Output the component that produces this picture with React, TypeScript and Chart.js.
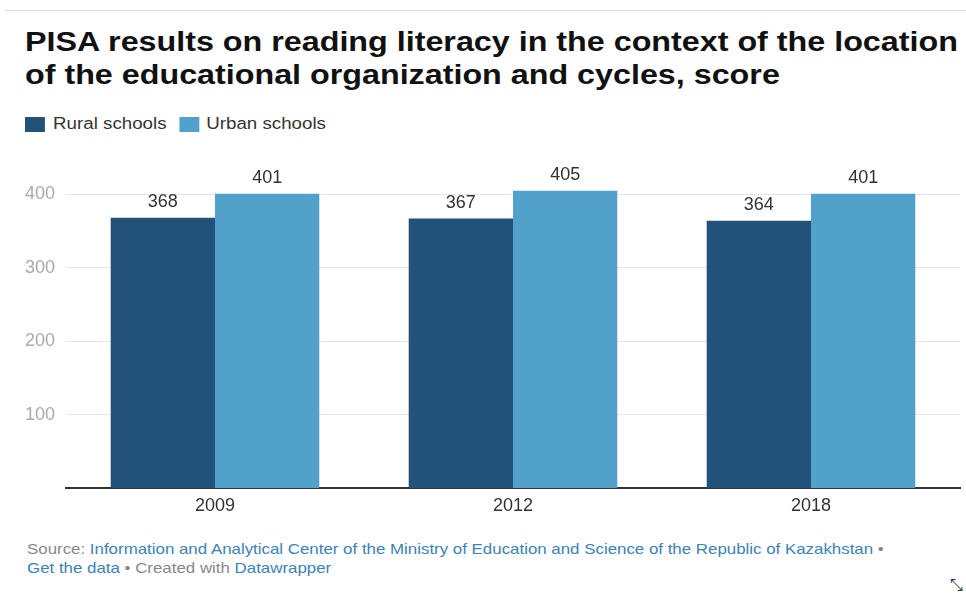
import React, { useEffect, useRef } from "react";
import { Chart, registerables } from "chart.js";

Chart.register(...registerables);

const categories = ["2009", "2012", "2018"];
const ruralValues = [368, 367, 364];
const urbanValues = [401, 405, 401];
const seriesNames = ["Rural schools", "Urban schools"];
const yTickValues = [100, 200, 300, 400];

const RURAL = "#22527a";
const URBAN = "#51a1ca";
const FONT = "'Liberation Sans', Arial, sans-serif";

const valueLabels = {
  id: "valueLabels",
  afterDatasetsDraw(chart: any) {
    const ctx = chart.ctx;
    ctx.save();
    ctx.font = `18px ${FONT}`;
    ctx.fillStyle = "#333";
    ctx.textAlign = "center";
    ctx.textBaseline = "alphabetic";
    chart.data.datasets.forEach((ds: any, i: number) => {
      const meta = chart.getDatasetMeta(i);
      meta.data.forEach((bar: any, j: number) => {
        ctx.fillText(String(ds.data[j]), bar.x, bar.y - 11);
      });
    });
    ctx.restore();
  },
};

export default function App() {
  const ref = useRef<HTMLCanvasElement>(null);
  useEffect(() => {
    document.body.style.margin = "0";
    const chart = new Chart(ref.current!, {
      type: "bar",
      data: {
        labels: categories,
        datasets: [
          { label: seriesNames[0], data: ruralValues, backgroundColor: RURAL, categoryPercentage: 0.7, barPercentage: 1 },
          { label: seriesNames[1], data: urbanValues, backgroundColor: URBAN, categoryPercentage: 0.7, barPercentage: 1 },
        ],
      },
      options: {
        responsive: false,
        animation: false,
        layout: { padding: { top: 25, right: 6, bottom: 0, left: 0 } },
        plugins: { legend: { display: false }, tooltip: { enabled: false } },
        scales: {
          x: {
            grid: { display: false, drawTicks: false },
            border: { display: true, color: "#333", width: 2 },
            ticks: { color: "#333", font: { size: 18, family: FONT }, padding: 7 },
            afterFit: (s: any) => { s.height = 37; },
          },
          y: {
            min: 0,
            max: 440,
            grid: { color: "#e6e6e6", drawTicks: false },
            border: { display: false },
            ticks: { color: "#aaa", font: { size: 18, family: FONT }, padding: 11 },
            afterBuildTicks: (s: any) => { s.ticks = yTickValues.map((v) => ({ value: v })); },
            afterFit: (s: any) => { s.width = 66; },
          },
        },
      },
      plugins: [valueLabels],
    });
    return () => chart.destroy();
  }, []);

  const link = { color: "#3b83b7" };
  return (
    <div style={{ position: "relative", width: 966, height: 595, background: "#fff", fontFamily: FONT, overflow: "hidden" }}>
      <div style={{ position: "absolute", left: 5, right: 0, top: 10, height: 1, background: "#ddd" }} />
      <div style={{ position: "absolute", left: 25, top: 26, fontWeight: 700, fontSize: 27, lineHeight: "33px", color: "#111", whiteSpace: "nowrap", transform: "scaleX(1.195)", transformOrigin: "0 0" }}>
        PISA results on reading literacy in the context of the location
        <br />
        of the educational organization and cycles, score
      </div>
      <div style={{ position: "absolute", left: 25, top: 114, height: 20, display: "flex", alignItems: "center", fontSize: 16, color: "#333", whiteSpace: "nowrap", transform: "scaleX(1.17)", transformOrigin: "0 0" }}>
        <span style={{ width: 17, height: 15, background: RURAL, display: "inline-block", marginRight: 7 }} />
        <span style={{ marginRight: 11 }}>{seriesNames[0]}</span>
        <span style={{ width: 17, height: 15, background: URBAN, display: "inline-block", marginRight: 6 }} />
        <span>{seriesNames[1]}</span>
      </div>
      <canvas ref={ref} width={966} height={385} style={{ position: "absolute", left: 0, top: 140 }} />
      <div style={{ position: "absolute", left: 27, top: 539, fontSize: 15, lineHeight: "19px", color: "#888", whiteSpace: "nowrap", transform: "scaleX(1.125)", transformOrigin: "0 0" }}>
        Source: <span style={link}>Information and Analytical Center of the Ministry of Education and Science of the Republic of Kazakhstan</span> •
        <br />
        <span style={link}>Get the data</span> • Created with <span style={link}>Datawrapper</span>
      </div>
      <div style={{ position: "absolute", left: 950, top: 576, fontSize: 16, color: "#333" }}>⤡</div>
    </div>
  );
}
